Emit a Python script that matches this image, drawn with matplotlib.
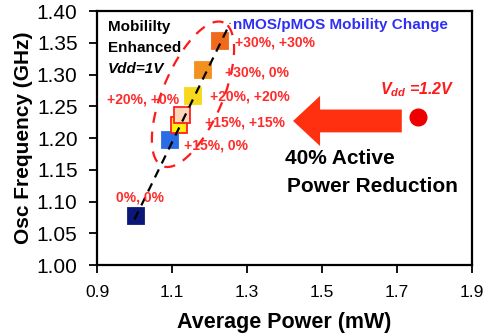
import numpy as np
import matplotlib
matplotlib.use('Agg')
import matplotlib.pyplot as plt
from matplotlib.patches import FancyArrow

plt.rcParams['font.family'] = ['Liberation Sans', 'DejaVu Sans']
plt.rcParams['mathtext.fontset'] = 'custom'
plt.rcParams['mathtext.it'] = 'Liberation Sans:italic:bold'
plt.rcParams['mathtext.rm'] = 'Liberation Sans:bold'

# data
power = [1.005, 1.095, 1.119, 1.127, 1.156, 1.183, 1.228]
freq = [1.078, 1.197, 1.220, 1.236, 1.266, 1.307, 1.353]
labels = ['0%, 0%', '+15%, 0%', '+15%, +15%', '+20%, +0%',
          '+20%, +20%', '+30%, 0%', '+30%, +30%']
face_colors = ['#0c1878', '#2a6be6', '#ffee10', '#fdd8b8',
               '#f8d81c', '#f29020', '#f06a1c']
edge_colors = ['#0c1878', '#2a6be6', '#ff2020', '#ff2020',
               '#f8d81c', '#f29020', '#f06a1c']
# label text positions (power, freq)
label_pos = [(0.951, 1.107), (1.132, 1.189), (1.188, 1.224), (0.927, 1.260),
             (1.201, 1.265), (1.241, 1.304), (1.268, 1.350)]

trend_x = [1.0, 1.255]
trend_y = [1.072, 1.381]

ref_power = [1.756]
ref_freq = [1.233]

red = '#ff2a2a'

fig = plt.figure(figsize=(4.85, 3.36), dpi=100)
ax = fig.add_axes([0.2, 0.211, 0.773, 0.756])

ax.plot(trend_x, trend_y, color='black', lw=1.6, ls=(0, (4, 3)), zorder=3)
for p, f, fc, ec in zip(power, freq, face_colors, edge_colors):
    ax.plot(p, f, marker='s', ms=11, mfc=fc, mec=ec, mew=1.3, ls='none', zorder=2)

for lab, (lx, ly) in zip(labels, label_pos):
    ax.text(lx, ly, lab, color=red, fontsize=10, fontweight='bold',
            ha='left', va='center', zorder=4)

# dashed ellipse around mobility-enhanced points (built in pixel scale)
sx, sy = 375.0, 635.0
t = np.linspace(0, 2 * np.pi, 200)
a, b, th = 78, 30, np.deg2rad(67)
u = a * np.cos(t) * np.cos(th) - b * np.sin(t) * np.sin(th)
v = a * np.cos(t) * np.sin(th) + b * np.sin(t) * np.cos(th)
ax.plot(1.156 + u / sx, 1.269 + v / sy, color='#ff1a1a', lw=1.6,
        ls=(0, (5, 4)), zorder=1)

# big arrow
ax.add_patch(FancyArrow(1.713, 1.227, -0.218, 0, width=0.036,
                        head_width=0.079, head_length=0.072,
                        length_includes_head=False, color='#ff3010', lw=0))
ax.plot(ref_power, ref_freq, 'o', ms=12, color='#ee0000', zorder=3)

ax.text(0.929, 1.375, 'Mobililty', fontsize=11, fontweight='bold', va='center')
ax.text(0.929, 1.342, 'Enhanced', fontsize=11, fontweight='bold', va='center')
ax.text(0.929, 1.309, 'Vdd=1V', fontsize=11, fontweight='bold',
        fontstyle='italic', va='center')
ax.text(1.263, 1.378, 'nMOS/pMOS Mobility Change', fontsize=11,
        fontweight='bold', color='#3030f5', va='center')
ax.text(1.655, 1.276, r'$V_{dd}$ =1.2V', fontsize=11.5, fontweight='bold',
        fontstyle='italic', color='#ff1a1a', va='center')
ax.text(1.401, 1.168, '40% Active', fontsize=15, fontweight='bold', va='center')
ax.text(1.407, 1.124, 'Power Reduction', fontsize=15, fontweight='bold', va='center')

ax.set_xlim(0.9, 1.9)
ax.set_ylim(1.0, 1.4)
ax.set_xticks(np.arange(0.9, 1.95, 0.2))
ax.set_xticklabels(['0.9', '1.1', '1.3', '1.5', '1.7', '1.9'], fontsize=12.5)
ax.set_yticks(np.arange(1.0, 1.41, 0.05))
ax.set_yticklabels(['%.2f' % v for v in np.arange(1.0, 1.41, 0.05)], fontsize=15)
ax.tick_params(direction='out', length=6, width=1.3)
ax.tick_params(axis='y', pad=8)
ax.tick_params(axis='x', pad=8)
for s in ax.spines.values():
    s.set_linewidth(1.6)
ax.set_xlabel('Average Power (mW)', fontsize=15.5, fontweight='bold', labelpad=9)
ax.set_ylabel('Osc Frequency (GHz)', fontsize=15, fontweight='bold', labelpad=3)

fig.savefig('out.png', dpi=100)
